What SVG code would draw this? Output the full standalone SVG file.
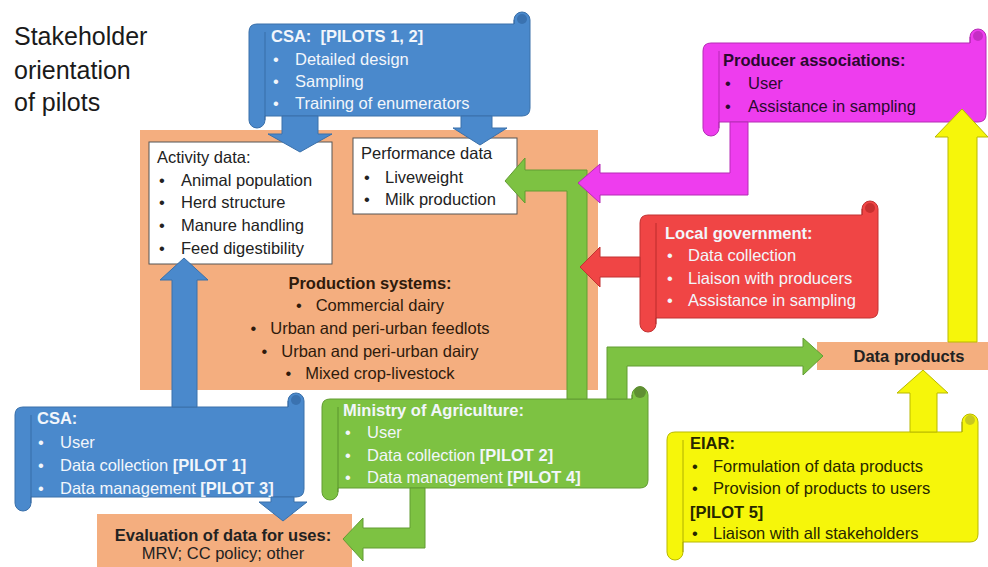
<svg xmlns="http://www.w3.org/2000/svg" width="988" height="567" viewBox="0 0 988 567">
<style>
text{font-family:"Liberation Sans",Arial,sans-serif;font-size:16.5px}
.title{font-size:25px;fill:#1a1a1a}
.dk{fill:#222}
.br{fill:#2e1a0c}
.wt{fill:#f2f6fb}
.pu{fill:#2a0a2e}
.yl{fill:#262600}
.b{font-weight:bold}
.box{fill:#fff;stroke:#555;stroke-width:1}
.org{fill:#f4ae7f}
.blue{fill:#4a89cc;stroke:#3a70aa;stroke-width:1}
.green{fill:#7dc242;stroke:#629c33;stroke-width:1}
.red{fill:#f04545;stroke:#c23333;stroke-width:1}
.mag{fill:#ee3dee;stroke:#b52cb5;stroke-width:1}
.yel{fill:#f6f60a;stroke:#b9b900;stroke-width:1}
.curl{fill:none;stroke-width:1.2;opacity:.55}
</style>
<rect width="988" height="567" fill="#fff"/>
<text class="title" x="14" y="45">Stakeholder</text>
<text class="title" x="14" y="79">orientation</text>
<text class="title" x="14" y="111">of pilots</text>

<g id="production-systems">
<rect class="org" x="140" y="130" width="458" height="260"/>
<text class="br b" x="370" y="289" text-anchor="middle">Production systems:</text>
<text class="br" x="370" y="311" text-anchor="middle">•<tspan dx="14">Commercial dairy</tspan></text>
<text class="br" x="370" y="334" text-anchor="middle">•<tspan dx="14">Urban and peri-urban feedlots</tspan></text>
<text class="br" x="370" y="357" text-anchor="middle">•<tspan dx="14">Urban and peri-urban dairy</tspan></text>
<text class="br" x="370" y="379" text-anchor="middle">•<tspan dx="14">Mixed crop-livestock</tspan></text>
</g>

<g id="activity-data">
<rect class="box" x="149" y="142" width="183" height="122"/>
<text class="dk" x="157" y="163">Activity data:</text>
<text class="dk" x="159" y="186">•</text><text class="dk" x="181" y="186">Animal population</text>
<text class="dk" x="159" y="208">•</text><text class="dk" x="181" y="208">Herd structure</text>
<text class="dk" x="159" y="231">•</text><text class="dk" x="181" y="231">Manure handling</text>
<text class="dk" x="159" y="254">•</text><text class="dk" x="181" y="254">Feed digestibility</text>
</g>

<g id="performance-data">
<rect class="box" x="353" y="138" width="164" height="76"/>
<text class="dk" x="361" y="159">Performance data</text>
<text class="dk" x="364" y="183">•</text><text class="dk" x="385" y="183">Liveweight</text>
<text class="dk" x="364" y="205">•</text><text class="dk" x="385" y="205">Milk production</text>
</g>

<g id="data-products">
<rect class="org" x="817" y="342" width="171" height="28"/>
<text class="dk b" x="909" y="362" text-anchor="middle">Data products</text>
</g>

<g id="evaluation">
<rect class="org" x="97" y="514" width="255" height="53"/>
<text class="dk b" x="223" y="541" text-anchor="middle">Evaluation of data for uses:</text>
<text class="dk" x="223" y="559" text-anchor="middle">MRV; CC policy; other</text>
</g>

<g id="csa-top">
<path class="blue" d="M249,32 Q249,24 257,24 H514 V20 A8,8 0 0 1 530,20 V108 Q530,116 522,116 H265 V120 A8,8 0 0 1 249,120 Z"/>
<path class="curl" stroke="#2d5e96" d="M265,32 V120 M514,20 V24"/>
<circle cx="522" cy="19" r="5" fill="#3a72b0"/>
<text class="wt b" x="271" y="42" xml:space="preserve">CSA:  [PILOTS 1, 2]</text>
<text class="wt" x="273" y="65">•</text><text class="wt" x="295" y="65">Detailed design</text>
<text class="wt" x="273" y="87">•</text><text class="wt" x="295" y="87">Sampling</text>
<text class="wt" x="273" y="109">•</text><text class="wt" x="295" y="109">Training of enumerators</text>
</g>

<g id="producer-associations">
<path class="mag" d="M703,51 Q703,43 711,43 H970 V37 A8,8 0 0 1 986,37 V114 Q986,122 978,122 H719 V128 A8,8 0 0 1 703,128 Z"/>
<path class="curl" stroke="#9a209a" d="M719,51 V128 M970,37 V43"/>
<circle cx="978" cy="36" r="5" fill="#c52ec5"/>
<text class="pu b" x="723" y="66">Producer associations:</text>
<text class="pu" x="725" y="89">•</text><text class="pu" x="748" y="89">User</text>
<text class="pu" x="725" y="112">•</text><text class="pu" x="748" y="112">Assistance in sampling</text>
</g>

<g id="local-government">
<path class="red" d="M640,223 Q640,215 648,215 H862 V209 A8,8 0 0 1 878,209 V310 Q878,318 870,318 H656 V324 A8,8 0 0 1 640,324 Z"/>
<path class="curl" stroke="#a02020" d="M656,223 V324 M862,209 V215"/>
<circle cx="870" cy="208" r="5" fill="#c83030"/>
<text class="wt b" x="665" y="239">Local government:</text>
<text class="wt" x="667" y="261">•</text><text class="wt" x="688" y="261">Data collection</text>
<text class="wt" x="667" y="284">•</text><text class="wt" x="688" y="284">Liaison with producers</text>
<text class="wt" x="667" y="306">•</text><text class="wt" x="688" y="306">Assistance in sampling</text>
</g>

<g id="csa-bottom">
<path class="blue" d="M15,415 Q15,407 23,407 H288 V401 A8,8 0 0 1 304,401 V489 Q304,497 296,497 H31 V503 A8,8 0 0 1 15,503 Z"/>
<path class="curl" stroke="#2d5e96" d="M31,415 V503 M288,401 V407"/>
<circle cx="296" cy="400" r="5" fill="#3a72b0"/>
<text class="wt b" x="37" y="424">CSA:</text>
<text class="wt" x="38" y="448">•</text><text class="wt" x="60" y="448">User</text>
<text class="wt" x="38" y="471">•</text><text class="wt" x="60" y="471">Data collection <tspan class="b">[PILOT 1]</tspan></text>
<text class="wt" x="38" y="494">•</text><text class="wt" x="60" y="494">Data management <tspan class="b">[PILOT 3]</tspan></text>
</g>

<g id="ministry-of-agriculture">
<path class="green" d="M322,407 Q322,399 330,399 H632 V395 A8,8 0 0 1 648,395 V480 Q648,488 640,488 H338 V492 A8,8 0 0 1 322,492 Z"/>
<path class="curl" stroke="#4a7d22" d="M338,407 V492 M632,395 V399"/>
<circle cx="640" cy="392" r="6" fill="#5f8f32"/>
<text class="wt b" x="343" y="416">Ministry of Agriculture:</text>
<text class="wt" x="345" y="438">•</text><text class="wt" x="367" y="438">User</text>
<text class="wt" x="345" y="461">•</text><text class="wt" x="367" y="461">Data collection <tspan class="b">[PILOT 2]</tspan></text>
<text class="wt" x="345" y="483">•</text><text class="wt" x="367" y="483">Data management <tspan class="b">[PILOT 4]</tspan></text>
</g>

<g id="eiar">
<path class="yel" d="M667,440 Q667,432 675,432 H962 V422 A8,8 0 0 1 978,422 V534 Q978,542 970,542 H683 V552 A8,8 0 0 1 667,552 Z"/>
<path class="curl" stroke="#8a8a00" d="M683,440 V552 M962,422 V432"/>
<circle cx="970" cy="420" r="5" fill="#c8c820"/>
<text class="yl b" x="690" y="449">EIAR:</text>
<text class="yl" x="692" y="472">•</text><text class="yl" x="713" y="472">Formulation of data products</text>
<text class="yl" x="692" y="494">•</text><text class="yl" x="713" y="494">Provision of products to users</text>
<text class="yl b" x="690" y="518">[PILOT 5]</text>
<text class="yl" x="692" y="539">•</text><text class="yl" x="713" y="539">Liaison with all stakeholders</text>
</g>

<g id="connectors">
<polygon class="blue" points="282,116 318,116 318,134 332,134 300,152 268,134 282,134"/>
<polygon class="blue" points="461,116 492,116 492,128 507,128 480,145 453,128 461,128"/>
<polygon class="blue" points="172,407 197,407 197,280 208,280 184,258 160,280 172,280"/>
<polygon class="blue" points="271,497 294,497 294,502 307,502 283,521 259,502 271,502"/>
<polygon class="green" points="587,399 587,170 525,170 525,158 505,181 525,203 525,191 567,191 567,399"/>
<polygon class="green" points="607,399 607,347 803,347 803,338 823,356 803,375 803,366 627,366 627,399"/>
<polygon class="green" points="410,488 425,488 425,548 363,548 363,561 343,539 363,518 363,528 410,528"/>
<polygon class="mag" points="730,122 748,122 748,195 600,195 600,203 578,183 600,164 600,173 730,173"/>
<polygon class="red" points="640,257 600,257 600,247 580,267 600,287 600,277 640,277"/>
<polygon class="yel" points="948,342 977,342 977,137 988,137 962,109 935,137 948,137"/>
<polygon class="yel" points="910,432 937,432 937,393 948,393 923,370 897,393 910,393"/>
</g>
</svg>
